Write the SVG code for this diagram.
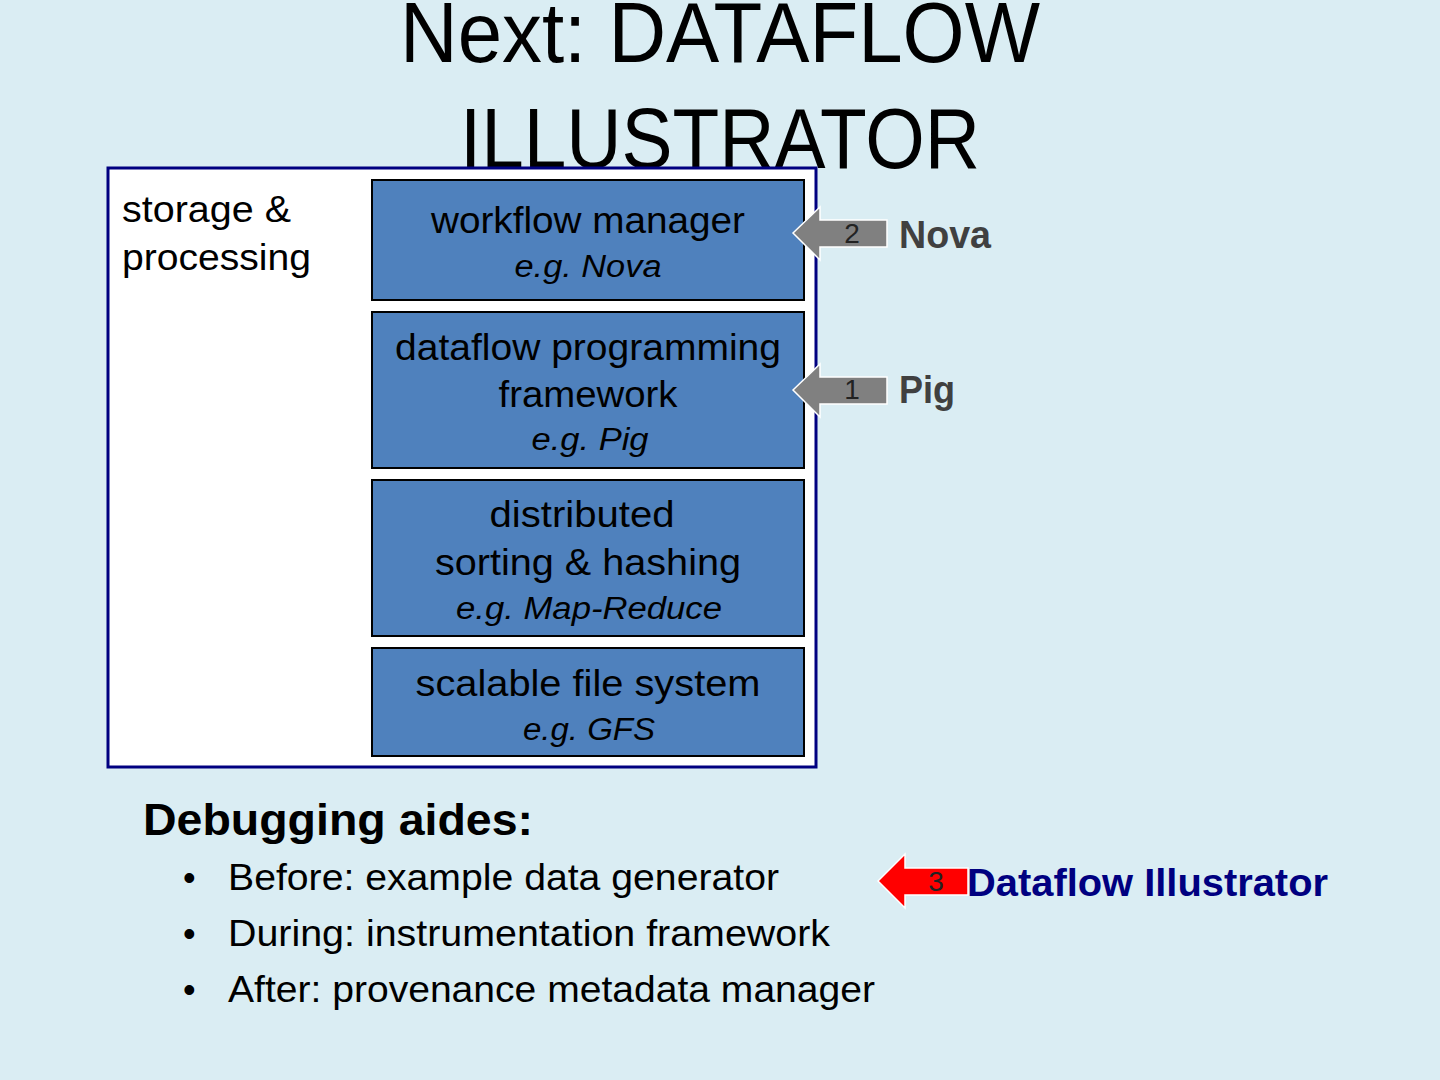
<svg xmlns="http://www.w3.org/2000/svg" width="1440" height="1080" viewBox="0 0 1440 1080">
<style>
text{font-family:"Liberation Sans","DejaVu Sans",sans-serif;}
.title{font-size:86px;fill:#000;text-anchor:middle;}
.box{fill:#4F81BD;stroke:#000;stroke-width:2;}
.bt{font-size:36px;fill:#000;text-anchor:middle;}
.it{font-size:31px;font-style:italic;fill:#000;text-anchor:middle;}
.side{font-size:38px;fill:#404040;font-weight:bold;}
.num{font-size:28px;fill:#222;text-anchor:middle;}
.body{font-size:36px;fill:#000;}
</style>
<rect width="1440" height="1080" fill="#DAEDF3"/>
<g id="title">
<text class="title" x="720" y="62" textLength="640" lengthAdjust="spacingAndGlyphs">Next: DATAFLOW</text>
<text class="title" x="720" y="168" textLength="520" lengthAdjust="spacingAndGlyphs">ILLUSTRATOR</text>
</g>
<g id="container">
<rect x="108" y="168" width="708" height="599" fill="#fff" stroke="#000080" stroke-width="3"/>
<text class="body" x="122" y="222" textLength="169" lengthAdjust="spacingAndGlyphs">storage &amp;</text>
<text class="body" x="122" y="270" textLength="189" lengthAdjust="spacingAndGlyphs">processing</text>
</g>
<g id="node-workflow">
<rect class="box" x="372" y="180" width="432" height="120"/>
<text class="bt" x="588" y="233" textLength="314" lengthAdjust="spacingAndGlyphs">workflow manager</text>
<text class="it" x="588" y="277" textLength="147" lengthAdjust="spacingAndGlyphs">e.g. Nova</text>
</g>
<g id="node-dataflow">
<rect class="box" x="372" y="312" width="432" height="156"/>
<text class="bt" x="588" y="360" textLength="386" lengthAdjust="spacingAndGlyphs">dataflow programming</text>
<text class="bt" x="588" y="407" textLength="179" lengthAdjust="spacingAndGlyphs">framework</text>
<text class="it" x="590" y="450" textLength="117" lengthAdjust="spacingAndGlyphs">e.g. Pig</text>
</g>
<g id="node-sorting">
<rect class="box" x="372" y="480" width="432" height="156"/>
<text class="bt" x="582" y="527" textLength="185" lengthAdjust="spacingAndGlyphs">distributed</text>
<text class="bt" x="588" y="575" textLength="306" lengthAdjust="spacingAndGlyphs">sorting &amp; hashing</text>
<text class="it" x="589" y="619" textLength="266" lengthAdjust="spacingAndGlyphs">e.g. Map-Reduce</text>
</g>
<g id="node-fs">
<rect class="box" x="372" y="648" width="432" height="108"/>
<text class="bt" x="588" y="696" textLength="345" lengthAdjust="spacingAndGlyphs">scalable file system</text>
<text class="it" x="589" y="740" textLength="132" lengthAdjust="spacingAndGlyphs">e.g. GFS</text>
</g>
<g id="connectors">
<polygon points="793,233 820,207 820,220 887,220 887,247 820,247 820,260" fill="#808080" stroke="#fff" stroke-width="1.5"/>
<polygon points="793,390 820,364 820,377 887,377 887,404 820,404 820,417" fill="#808080" stroke="#fff" stroke-width="1.5"/>
<polygon points="878,881 905,854 905,868 968,868 968,895 905,895 905,908" fill="#FF0000" stroke="#fff" stroke-width="1.5"/>
</g>
<g id="label-nova">
<text class="num" x="852" y="243">2</text>
<text class="side" x="899" y="248" textLength="92" lengthAdjust="spacingAndGlyphs">Nova</text>
</g>
<g id="label-pig">
<text class="num" x="852" y="399">1</text>
<text class="side" x="899" y="403" textLength="56" lengthAdjust="spacingAndGlyphs">Pig</text>
</g>
<g id="label-illustrator">
<text class="num" x="936" y="891" fill="#400">3</text>
<text x="967" y="896" font-size="38" font-weight="bold" fill="#000080" textLength="361" lengthAdjust="spacingAndGlyphs">Dataflow Illustrator</text>
</g>
<g id="debugging">
<text x="143" y="835" font-size="44" font-weight="bold" fill="#000" textLength="390" lengthAdjust="spacingAndGlyphs">Debugging aides:</text>
<text class="body" x="183" y="890">•</text>
<text class="body" x="228" y="890" textLength="551" lengthAdjust="spacingAndGlyphs">Before: example data generator</text>
<text class="body" x="183" y="946">•</text>
<text class="body" x="228" y="946" textLength="602" lengthAdjust="spacingAndGlyphs">During: instrumentation framework</text>
<text class="body" x="183" y="1002">•</text>
<text class="body" x="228" y="1002" textLength="647" lengthAdjust="spacingAndGlyphs">After: provenance metadata manager</text>
</g>
</svg>
